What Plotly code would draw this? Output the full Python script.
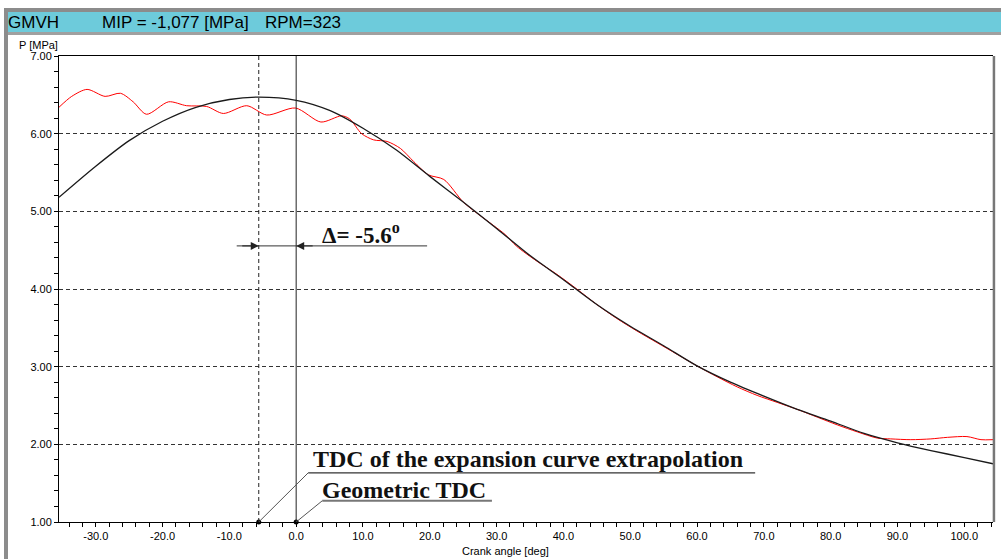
import plotly.graph_objects as go

# ---- data ----
black_deg = [-35.5, -30, -25, -20, -15, -10, -5.6, 0, 5, 10, 15, 20, 25, 30, 35, 40, 45,
             50, 55, 60, 65, 70, 75, 80, 85, 90, 95, 100, 104.3]
black_p = [5.18, 5.58, 5.91, 6.16, 6.34, 6.44, 6.47, 6.43, 6.30, 6.07, 5.79, 5.45, 5.12,
           4.78, 4.43, 4.12, 3.80, 3.52, 3.27, 3.01, 2.80, 2.62, 2.45, 2.30, 2.14, 2.02,
           1.92, 1.83, 1.75]

red_deg = [-35.5, -33.6, -31.3, -28.6, -26.3, -24.4, -22.4, -19.1, -16.4, -13.4, -10.9,
           -7.4, -4.4, -0.1, 3.7, 6.8, 8.0, 9.8, 11.6, 13.6, 15.6, 17.6, 19.8, 22.1, 25.0,
           27.0, 29.5, 31.3, 33, 36, 39, 42, 45, 48, 51, 54, 57, 60, 63, 66, 69, 72, 75,
           78, 81, 84, 87, 89, 92, 95, 97.5, 100.4, 102.5, 104.3]
red_p = [6.34, 6.48, 6.57, 6.48, 6.52, 6.41, 6.25, 6.41, 6.36, 6.35, 6.26,
         6.36, 6.24, 6.33, 6.15, 6.23, 6.19, 6.00, 5.92, 5.90, 5.81, 5.64, 5.47, 5.41, 5.12,
         4.98, 4.82, 4.70, 4.55, 4.36, 4.19, 4.00, 3.80, 3.62, 3.46, 3.31, 3.16, 3.01, 2.87,
         2.74, 2.63, 2.54, 2.45, 2.35, 2.25, 2.16, 2.08, 2.07, 2.06, 2.07, 2.09, 2.10, 2.06,
         2.06]

x_ticks = [-30, -20, -10, 0, 10, 20, 30, 40, 50, 60, 70, 80, 90, 100]
x_labels = ["-30.0", "-20.0", "-10.0", "0.0", "10.0", "20.0", "30.0", "40.0", "50.0",
            "60.0", "70.0", "80.0", "90.0", "100.0"]
y_ticks = [1, 2, 3, 4, 5, 6, 7]
y_labels = ["1.00", "2.00", "3.00", "4.00", "5.00", "6.00", "7.00"]

tdc_extrap = -5.6
tdc_geom = 0.0
x_range = [-35.5, 104.3]
y_range = [1, 7]

# ---- figure ----
W, H = 1001, 559
L, R, T, B = 59, 8, 56, 37
pw, ph = W - L - R, H - T - B


def px(x):
    return (x - L) / pw


def py(y):
    return 1 + (T - y) / ph


fig = go.Figure()
fig.add_trace(go.Scatter(x=red_deg, y=red_p, mode="lines",
                         line=dict(color="#ff0000", width=1, shape="spline", smoothing=0.8),
                         showlegend=False, hoverinfo="skip"))
fig.add_trace(go.Scatter(x=black_deg, y=black_p, mode="lines",
                         line=dict(color="#1a1a1a", width=1.3, shape="spline", smoothing=0.8),
                         showlegend=False, hoverinfo="skip"))
fig.add_trace(go.Scatter(x=[tdc_extrap, tdc_geom], y=[y_range[0], y_range[0]], mode="markers",
                         marker=dict(color="black", size=5), cliponaxis=False,
                         showlegend=False, hoverinfo="skip"))

shapes = []
# header
shapes.append(dict(type="rect", xref="paper", yref="paper", x0=px(4), x1=px(1001),
                   y0=py(35), y1=py(8), fillcolor="#8c8c8c", line=dict(width=0), layer="below"))
shapes.append(dict(type="rect", xref="paper", yref="paper", x0=px(8), x1=px(1001),
                   y0=py(32), y1=py(12), fillcolor="#6dcbdb", line=dict(width=0), layer="below"))
shapes.append(dict(type="rect", xref="paper", yref="paper", x0=px(8), x1=px(1001),
                   y0=py(35), y1=py(32), fillcolor="#a0a0a0", line=dict(width=0), layer="below"))
# left frame bar
shapes.append(dict(type="rect", xref="paper", yref="paper", x0=px(4), x1=px(8),
                   y0=py(559), y1=py(8), fillcolor="#8c8c8c", line=dict(width=0), layer="below"))
# right border of plot
shapes.append(dict(type="line", xref="paper", yref="paper", x0=1.001, x1=1.001, y0=0, y1=1,
                   line=dict(color="#777777", width=2.5)))
# vertical TDC lines
shapes.append(dict(type="line", xref="x", yref="paper", x0=tdc_extrap, x1=tdc_extrap, y0=0, y1=1,
                   line=dict(color="#222", width=1, dash="4px,3px")))
shapes.append(dict(type="line", xref="x", yref="paper", x0=tdc_geom, x1=tdc_geom, y0=0, y1=1,
                   line=dict(color="#222", width=1)))
# delta arrow line
shapes.append(dict(type="line", xref="x", yref="y", x0=-8.9, x1=19.6, y0=4.555, y1=4.555,
                   line=dict(color="#333", width=1)))
# leader lines + underlines
shapes.append(dict(type="line", xref="x", yref="y", x0=tdc_extrap, y0=1.0, x1=1.8, y1=1.633,
                   line=dict(color="#555", width=1)))
shapes.append(dict(type="line", xref="x", yref="y", x0=1.8, y0=1.633, x1=68.7, y1=1.633,
                   line=dict(color="#333", width=1.2)))
shapes.append(dict(type="line", xref="x", yref="y", x0=tdc_geom, y0=1.0, x1=3.9, y1=1.273,
                   line=dict(color="#555", width=1)))
shapes.append(dict(type="line", xref="x", yref="y", x0=3.9, y0=1.273, x1=29.3, y1=1.273,
                   line=dict(color="#777", width=2)))

hdr_font = dict(family="Liberation Sans, Arial", size=17, color="black")
serif = "Liberation Serif, Times New Roman"
ann = [
    dict(xref="paper", yref="paper", x=px(6), y=py(22), text="GMVH", showarrow=False,
         xanchor="left", yanchor="middle", font=hdr_font),
    dict(xref="paper", yref="paper", x=px(100), y=py(22), text="MIP = -1,077 [MPa]",
         showarrow=False, xanchor="left", yanchor="middle", font=hdr_font),
    dict(xref="paper", yref="paper", x=px(263), y=py(22), text="RPM=323", showarrow=False,
         xanchor="left", yanchor="middle", font=hdr_font),
    dict(xref="paper", yref="paper", x=px(60), y=py(45), text="P [MPa]", showarrow=False,
         xanchor="right", yanchor="middle",
         font=dict(family="Liberation Sans, Arial", size=11, color="black")),
    dict(xref="paper", yref="paper", x=px(505), y=py(551), text="Crank angle [deg]",
         showarrow=False, xanchor="center", yanchor="middle",
         font=dict(family="Liberation Sans, Arial", size=11, color="black")),
    # arrowheads
    dict(xref="x", yref="y", x=tdc_extrap, y=4.555, ax=-18, ay=0, text="", showarrow=True,
         arrowhead=2, arrowsize=1.6, arrowwidth=1, arrowcolor="#222"),
    dict(xref="x", yref="y", x=tdc_geom, y=4.555, ax=18, ay=0, text="", showarrow=True,
         arrowhead=2, arrowsize=1.6, arrowwidth=1, arrowcolor="#222"),
    dict(xref="x", yref="y", x=3.6, y=4.72, text="<b>Δ= -5.6<sup>o</sup></b>", showarrow=False,
         xanchor="left", yanchor="middle", font=dict(family=serif, size=23, color="#111")),
    dict(xref="x", yref="y", x=2.2, y=1.81, text="<b>TDC of the expansion curve extrapolation</b>",
         showarrow=False, xanchor="left", yanchor="middle",
         font=dict(family=serif, size=24, color="#111")),
    dict(xref="x", yref="y", x=3.6, y=1.415, text="<b>Geometric TDC</b>",
         showarrow=False, xanchor="left", yanchor="middle",
         font=dict(family=serif, size=24, color="#111")),
]

tick_font = dict(family="Liberation Sans, Arial", size=11, color="black")
fig.update_layout(
    width=W, height=H,
    margin=dict(l=L, r=R, t=T, b=B),
    paper_bgcolor="white", plot_bgcolor="white",
    shapes=shapes, annotations=ann,
    xaxis=dict(range=x_range, tickmode="array", tickvals=x_ticks, ticktext=x_labels,
               showgrid=False, zeroline=False, showline=True, linecolor="black", linewidth=1,
               mirror=True, ticks="outside", ticklen=4, tickcolor="black", tickfont=tick_font,
               minor=dict(tickmode="linear", tick0=0, dtick=2, ticks="outside", ticklen=4,
                          tickcolor="black", showgrid=False)),
    yaxis=dict(range=y_range, tickmode="array", tickvals=y_ticks, ticktext=y_labels,
               showgrid=True, gridcolor="#333", gridwidth=1, griddash="4px,3px",
               zeroline=False, showline=True, linecolor="black", linewidth=1,
               ticks="outside", ticklen=4, tickcolor="black", tickfont=tick_font,
               minor=dict(tickmode="linear", tick0=0, dtick=0.2, ticks="outside", ticklen=4,
                          tickcolor="black", showgrid=False)),
)

fig.write_html("out.html", config={"displayModeBar": False},
               post_script="document.body.style.margin='0px';document.body.style.overflow='hidden';")
